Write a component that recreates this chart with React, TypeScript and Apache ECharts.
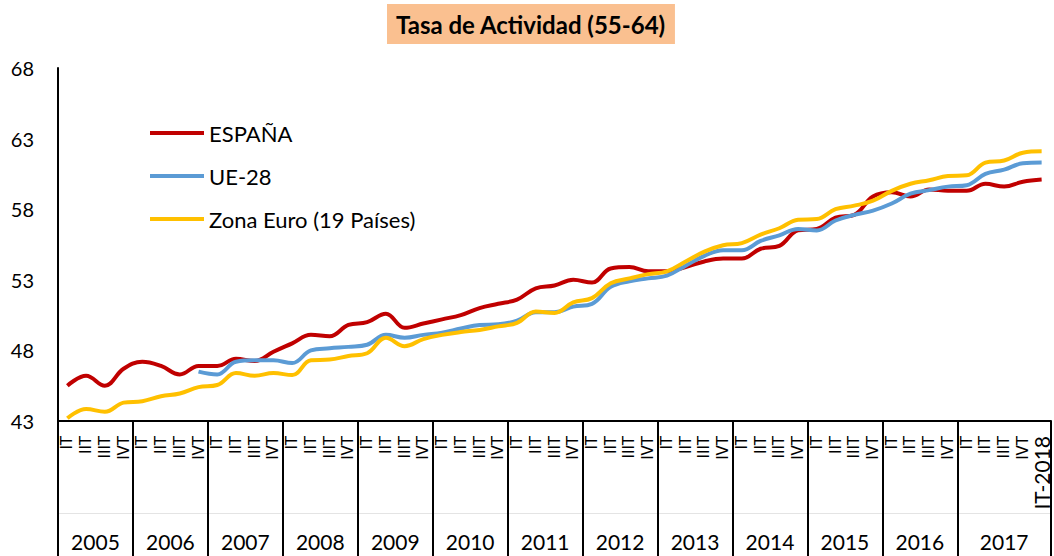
import React, { useEffect, useRef } from 'react';
import * as echarts from 'echarts';

const years = ['2005', '2006', '2007', '2008', '2009', '2010', '2011', '2012', '2013', '2014', '2015', '2016', '2017'];
const quarters = ['IT', 'IIT', 'IIIT', 'IVT'];
const lastLabel = 'IT-2018';
const categories: string[] = [...years.flatMap((y) => quarters.map((q) => `${q}-${y}`)), lastLabel];

const seriesNames = ['ESPAÑA', 'UE-28', 'Zona Euro (19 Países)'];

const espana = [
  45.5, 46.2, 45.5, 46.7, 47.2, 46.9, 46.3, 46.9, 46.9, 47.4, 47.25, 47.9, 48.5,
  49.1, 49.0, 49.8, 50.0, 50.6, 49.6, 49.9, 50.2, 50.5, 51.0, 51.3, 51.6,
  52.4, 52.6, 53.0, 52.8, 53.8, 53.9, 53.6, 53.6, 53.9, 54.3, 54.5, 54.5, 55.2,
  55.4, 56.5, 56.6, 57.4, 57.6, 58.9, 59.2, 58.9, 59.4, 59.3, 59.3, 59.8, 59.6, 59.95, 60.1,
];

const ue28 = [
  null, null, null, null, null, null, null,
  46.5, 46.3, 47.2, 47.3, 47.3, 47.1,
  48.0, 48.15, 48.25, 48.4, 49.1, 48.9, 49.1, 49.25, 49.55, 49.8, 49.85, 50.1,
  50.7, 50.7, 51.1, 51.3, 52.5, 52.9, 53.1, 53.3, 54.0, 54.7, 55.1, 55.1, 55.75,
  56.15, 56.6, 56.5, 57.2, 57.6, 57.9, 58.4, 59.1, 59.35, 59.6, 59.7, 60.5, 60.8, 61.25, 61.3,
];

const zonaEuro = [
  43.2, 43.85, 43.65, 44.3, 44.4, 44.75, 44.95, 45.4, 45.55, 46.4, 46.2, 46.4, 46.25,
  47.3, 47.35, 47.6, 47.8, 48.9, 48.3, 48.8, 49.1, 49.3, 49.45, 49.7, 49.95,
  50.75, 50.65, 51.4, 51.7, 52.75, 53.1, 53.4, 53.6, 54.3, 55.0, 55.45, 55.6, 56.2,
  56.65, 57.25, 57.3, 58.0, 58.25, 58.6, 59.3, 59.8, 60.05, 60.35, 60.4, 61.3, 61.45, 62.0, 62.1,
];

const yMin = 43;
const yMax = 68;
const yInterval = 5;

const FONT = 'Lato';

export default function App() {
  const ref = useRef<HTMLDivElement>(null);

  useEffect(() => {
    if (!ref.current) return;
    const chart = echarts.init(ref.current, null, { renderer: 'svg' });
    const n = categories.length;

    const yearLabel = (v: number) => {
      for (let k = 0; k < years.length - 1; k++) {
        if (Math.abs(v - (4 * k + 2)) < 1e-6) return years[k];
      }
      const lastStart = 4 * (years.length - 1);
      if (Math.abs(v - (lastStart + n) / 2) < 1e-6) return years[years.length - 1];
      return '';
    };

    chart.setOption({
      animation: false,
      backgroundColor: '#ffffff',
      title: {
        text: 'Tasa de Actividad (55-64)',
        left: 387,
        top: 4,
        backgroundColor: '#FAC090',
        padding: [8, 9, 8, 9],
        textStyle: { fontFamily: FONT, fontWeight: 'bold', fontSize: 24, color: '#000' },
      },
      legend: {
        orient: 'vertical',
        left: 150,
        top: 122,
        padding: 0,
        icon: 'rect',
        itemWidth: 54,
        itemHeight: 4,
        itemGap: 21,
        data: seriesNames,
        textStyle: { fontFamily: FONT, fontSize: 22, color: '#000', padding: [0, 0, 0, 0] },
      },
      grid: { left: 58, top: 68, width: 996, height: 353, containLabel: false },
      xAxis: [
        {
          type: 'category',
          data: categories,
          boundaryGap: true,
          axisLine: { show: true, lineStyle: { color: '#000', width: 2 } },
          axisTick: {
            show: true,
            interval: (index: number) => index % 4 === 0 && index < n - 1,
            length: 140,
            lineStyle: { color: '#000', width: 2 },
          },
          axisLabel: {
            interval: 0,
            rotate: 90,
            margin: 15,
            fontFamily: 'DejaVu Sans',
            fontSize: 15,
            color: '#000',
            formatter: (value: string, index: number) =>
              index === n - 1 ? `{big|${lastLabel}}` : value.split('-')[0],
            rich: { big: { fontFamily: FONT, fontSize: 21, color: '#000' } },
          },
          splitLine: { show: false },
        },
        {
          type: 'value',
          position: 'bottom',
          offset: 92,
          min: 0,
          max: n,
          interval: 0.5,
          axisLine: { show: true, onZero: false, lineStyle: { color: '#e4e4e4', width: 1 } },
          axisTick: { show: false },
          splitLine: { show: false },
          axisLabel: {
            margin: 18,
            fontFamily: FONT,
            fontSize: 21,
            color: '#000',
            formatter: (v: number) => yearLabel(v),
          },
        },
      ],
      yAxis: {
        type: 'value',
        min: yMin,
        max: yMax,
        interval: yInterval,
        axisLine: { show: true, lineStyle: { color: '#000', width: 2 } },
        axisTick: { show: false },
        splitLine: { show: false },
        axisLabel: { margin: 24, fontFamily: FONT, fontSize: 20, color: '#000' },
      },
      series: [
        { name: seriesNames[0], data: espana, color: '#C00000' },
        { name: seriesNames[1], data: ue28, color: '#5B9BD5' },
        { name: seriesNames[2], data: zonaEuro, color: '#FFC000' },
      ].map((s) => ({
        name: s.name,
        type: 'line',
        xAxisIndex: 0,
        data: s.data,
        smooth: 0.4,
        symbol: 'none',
        showSymbol: false,
        itemStyle: { color: s.color },
        lineStyle: { color: s.color, width: 4 },
        emphasis: { disabled: true },
      })),
    });

    return () => chart.dispose();
  }, []);

  return (
    <div
      ref={ref}
      style={{ position: 'absolute', left: 0, top: 0, width: 1054, height: 556 }}
    />
  );
}
